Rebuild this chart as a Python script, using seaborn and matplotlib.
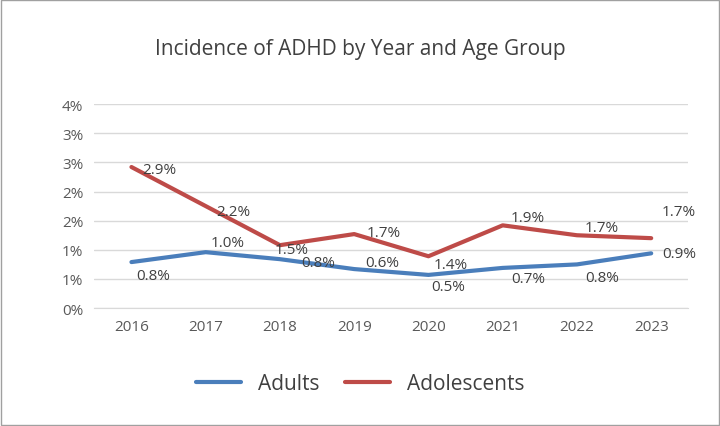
import numpy as np
import pandas as pd
import matplotlib
matplotlib.use("Agg")
import matplotlib.pyplot as plt
import seaborn as sns

years = ["2016", "2017", "2018", "2019", "2020", "2021", "2022", "2023"]
adults = [0.79, 0.96, 0.84, 0.67, 0.57, 0.69, 0.75, 0.94]
adolescents = [2.42, 1.75, 1.08, 1.27, 0.89, 1.42, 1.25, 1.20]
adult_labels = ["0.8%", "1.0%", "0.8%", "0.6%", "0.5%", "0.7%", "0.8%", "0.9%"]
adol_labels = ["2.9%", "2.2%", "1.5%", "1.7%", "1.4%", "1.9%", "1.7%", "1.7%"]
yticks = [0, 0.5, 1, 1.5, 2, 2.5, 3, 3.5]
ytick_labels = ["0%", "1%", "1%", "2%", "2%", "3%", "3%", "4%"]

sns.set_style("white")
plt.rcParams['font.family'] = ['Open Sans', 'DejaVu Sans']

df = pd.DataFrame({"year": years * 2,
                   "value": adults + adolescents,
                   "group": ["Adults"] * 8 + ["Adolescents"] * 8})

fig = plt.figure(figsize=(7.2, 4.27), dpi=100)
ax = fig.add_axes([0.131, 0.276, 0.825, 0.478])
sns.lineplot(data=df, x="year", y="value", hue="group", sort=False,
             palette={"Adults": "#4a7ebb", "Adolescents": "#be4b48"},
             linewidth=3, ax=ax, legend=False)
ax.set_xlim(-0.5, 7.5)
ax.set_ylim(0, 3.5)
ax.set_yticks(yticks)
ax.set_yticklabels(ytick_labels)
ax.grid(axis="y", color="#d9d9d9", linewidth=1)
for s in ["top", "right", "left"]:
    ax.spines[s].set_visible(False)
ax.spines["bottom"].set_color("#d9d9d9")
ax.tick_params(length=0, labelsize=11, colors="#595959", pad=8)
ax.set_xlabel("")
ax.set_ylabel("")

# label offsets in pixels (dx, dy)
adol_off = [(28, -2), (28, -5), (12, -4), (30, 2), (22, -8), (25, 8), (25, 8), (28, 27)]
adult_off = [(22, -13), (22, 10), (38, -3), (28, 7), (20, -12), (26, -11), (25, -13), (28, 0)]
for i in range(8):
    ax.annotate(adol_labels[i], (i, adolescents[i]), xytext=adol_off[i],
                textcoords="offset pixels", fontsize=11, color="#404040",
                ha="center", va="center")
    ax.annotate(adult_labels[i], (i, adults[i]), xytext=adult_off[i],
                textcoords="offset pixels", fontsize=11, color="#404040",
                ha="center", va="center")

fig.text(0.5, 0.885, "Incidence of ADHD by Year and Age Group", ha="center",
         va="center", fontsize=15, color="#404040")

from matplotlib.lines import Line2D
handles = [Line2D([], [], color="#4a7ebb", lw=3), Line2D([], [], color="#be4b48", lw=3)]
fig.legend(handles, ["Adults", "Adolescents"], loc="center", bbox_to_anchor=(0.5, 0.10),
           ncol=2, frameon=False, fontsize=15, handlelength=2.2, columnspacing=1.2,
           labelcolor="#404040")
fig.patches.append(plt.Rectangle((0.002, 0.002), 0.996, 0.996, transform=fig.transFigure,
                                 fill=False, edgecolor="#a0a0a0", lw=1))
fig.savefig("out.png", dpi=100)
